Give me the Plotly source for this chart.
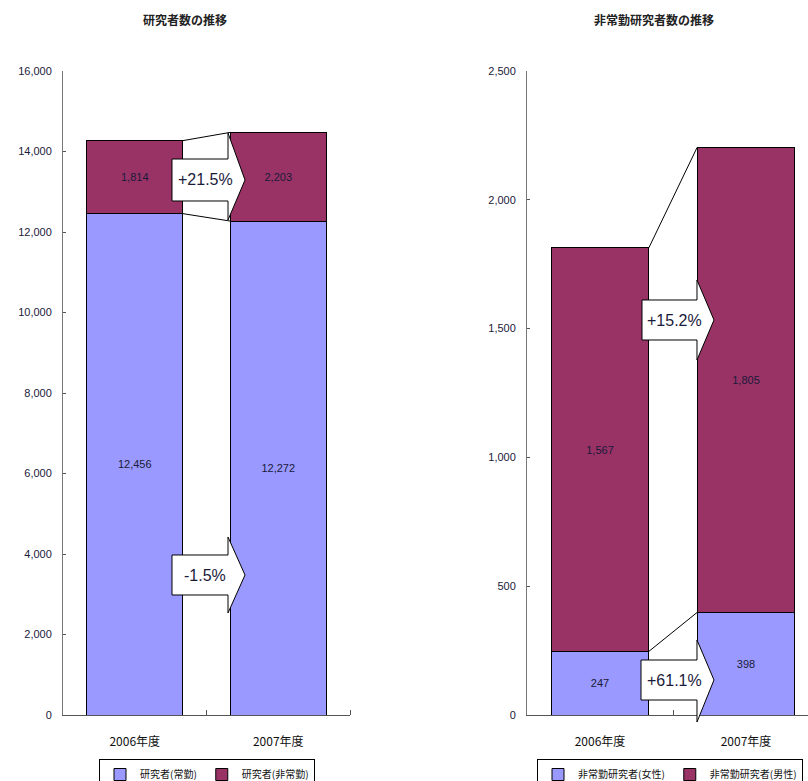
import plotly.graph_objects as go

# ---- data -------------------------------------------------------------
years = ["2006年度", "2007年度"]

researchers_fulltime = [12456, 12272]
researchers_parttime = [1814, 2203]

parttime_female = [247, 398]
parttime_male = [1567, 1805]

change_labels_left = ["+21.5%", "-1.5%"]
change_labels_right = ["+15.2%", "+61.1%"]

left_title = "研究者数の推移"
right_title = "非常勤研究者数の推移"

# ---- styling ----------------------------------------------------------
W, H = 808, 781
MT, MB = 71, 66
PLOT_H = H - MT - MB

BLUE = "#9999FF"
MAROON = "#993366"
NUM_FONT = "Liberation Sans Narrow, Arial Narrow, Liberation Sans, Arial, sans-serif"
CJK_FONT = "Noto Sans CJK JP, sans-serif"
TEXT_COLOR = "#1a1a3a"
BAR_W = 0.67
x_idx = [0, 1]


def px_x(p):
    return p / W


def px_y(p):
    return (H - MB - p) / PLOT_H


fig = go.Figure()

# left chart: stacked researchers
fig.add_bar(x=x_idx, y=researchers_fulltime, name="研究者(常勤)",
            marker=dict(color=BLUE, line=dict(color="black", width=1)),
            width=BAR_W, xaxis="x", yaxis="y", legend="legend",
            text=researchers_fulltime, texttemplate="%{y:,}")
fig.add_bar(x=x_idx, y=researchers_parttime, name="研究者(非常勤)",
            marker=dict(color=MAROON, line=dict(color="black", width=1)),
            width=BAR_W, xaxis="x", yaxis="y", legend="legend",
            text=researchers_parttime, texttemplate="%{y:,}")

# right chart: stacked part-time researchers by gender
fig.add_bar(x=x_idx, y=parttime_female, name="非常勤研究者(女性)",
            marker=dict(color=BLUE, line=dict(color="black", width=1)),
            width=BAR_W, xaxis="x2", yaxis="y2", legend="legend2",
            text=parttime_female, texttemplate="%{y:,}")
fig.add_bar(x=x_idx, y=parttime_male, name="非常勤研究者(男性)",
            marker=dict(color=MAROON, line=dict(color="black", width=1)),
            width=BAR_W, xaxis="x2", yaxis="y2", legend="legend2",
            text=parttime_male, texttemplate="%{y:,}")

fig.update_traces(textposition="inside", insidetextanchor="middle",
                  textangle=0, cliponaxis=False,
                  textfont=dict(family=NUM_FONT, size=11, color=TEXT_COLOR))

shapes = []


def series_lines(bottom, top, xref, yref):
    totals = [b + t for b, t in zip(bottom, top)]
    for vals in (bottom, totals):
        shapes.append(dict(type="line", xref=xref, yref=yref,
                           x0=BAR_W / 2, y0=vals[0],
                           x1=1 - BAR_W / 2, y1=vals[1],
                           line=dict(color="black", width=1)))


series_lines(researchers_fulltime, researchers_parttime, "x", "y")
series_lines(parttime_female, parttime_male, "x2", "y2")

annotations = []


def block_arrow(label, body_l, body_t, body_b, head_x, head_t, head_b, tip_x):
    cy = (body_t + body_b) / 2
    pts = [(body_l, body_t), (head_x, body_t), (head_x, head_t), (tip_x, cy),
           (head_x, head_b), (head_x, body_b), (body_l, body_b)]
    path = "M " + " L ".join(f"{px_x(a):.5f},{px_y(b):.5f}" for a, b in pts) + " Z"
    shapes.append(dict(type="path", xref="paper", yref="paper", path=path,
                       fillcolor="white", line=dict(color="black", width=1),
                       layer="above"))
    annotations.append(dict(xref="paper", yref="paper",
                            x=px_x((body_l + head_x) / 2 + 5), y=px_y(cy),
                            xanchor="center", yanchor="middle",
                            text=label, showarrow=False,
                            font=dict(family=NUM_FONT, size=16, color=TEXT_COLOR)))


block_arrow(change_labels_left[0], 172, 159, 201, 228, 133, 220, 245)
block_arrow(change_labels_left[1], 172, 555, 595, 228, 537, 613, 245)
block_arrow(change_labels_right[0], 642, 300, 340, 697, 280, 360, 714)
block_arrow(change_labels_right[1], 641, 660, 700, 697, 640, 722, 714)

for title, cx in ((left_title, 185), (right_title, 654)):
    annotations.append(dict(xref="paper", yref="paper", x=px_x(cx), y=px_y(20),
                            xanchor="center", yanchor="middle",
                            text=f"<b>{title}</b>", showarrow=False,
                            font=dict(family=CJK_FONT, size=12, color="#222")))

xaxis_common = dict(tickmode="array", tickvals=x_idx, ticktext=years,
                    ticks="", showline=True, linecolor="#555", linewidth=1,
                    showgrid=False, zeroline=False, fixedrange=True,
                    ticklabelstandoff=16,
                    tickfont=dict(family=CJK_FONT, size=12, color="#111"),
                    minor=dict(tickmode="array", tickvals=[0.5, 1.5],
                               ticks="inside", ticklen=5, tickcolor="#555",
                               showgrid=False))
yaxis_common = dict(showline=True, linecolor="#777", linewidth=1,
                    ticks="inside", ticklen=3, tickcolor="#555",
                    showgrid=False, zeroline=False, tickformat=",d",
                    ticklabelstandoff=8,
                    tickfont=dict(family=NUM_FONT, size=11, color=TEXT_COLOR))

legend_common = dict(orientation="h", xanchor="center", yanchor="top",
                     traceorder="normal",
                     bordercolor="black", borderwidth=1, bgcolor="white",
                     font=dict(family=CJK_FONT, size=10, color="#111"),
                     itemwidth=30, tracegroupgap=0)

fig.update_layout(
    width=W, height=H,
    margin=dict(l=0, r=0, t=MT, b=MB, autoexpand=False),
    paper_bgcolor="white", plot_bgcolor="white",
    barmode="stack",
    xaxis=dict(domain=[px_x(63), px_x(350)], range=[-0.5, 1.5],
               anchor="y", **xaxis_common),
    yaxis=dict(domain=[0, 1], range=[0, 16000], dtick=2000,
               anchor="x", **yaxis_common),
    xaxis2=dict(domain=[px_x(527), 1.0], range=[-0.5, -0.5 + 281 / 146],
                anchor="y2", **xaxis_common),
    yaxis2=dict(domain=[0, 1], range=[0, 2500], dtick=500,
                anchor="x2", **yaxis_common),
    legend=dict(x=px_x(207), y=px_y(759), **legend_common),
    legend2=dict(x=px_x(670), y=px_y(759), **legend_common),
    shapes=shapes,
    annotations=annotations,
)

fig.write_html("out.html")
